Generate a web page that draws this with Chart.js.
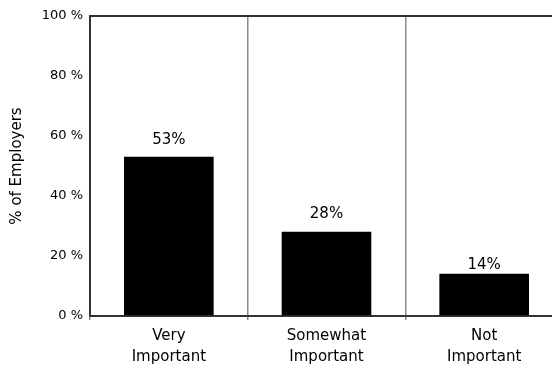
<!DOCTYPE html>
<html>
<head>
<meta charset="utf-8">
<script src="https://cdn.jsdelivr.net/npm/chart.js@4/dist/chart.umd.min.js"></script>
<style>
  html, body { margin: 0; padding: 0; background: #fff; overflow: hidden; }
  #wrap { width: 552px; height: 371px; overflow: hidden; }
</style>
</head>
<body>
<div id="wrap"><canvas id="chart" width="600" height="371"></canvas></div>
<script>
// ── Data ───────────────────────────────────────────────
const categories = [['Very', 'Important'], ['Somewhat', 'Important'], ['Not', 'Important']];
const shares = [53, 28, 14];
const yTicks = [0, 20, 40, 60, 80, 100];

// ── Value labels above bars ────────────────────────────
const barLabels = {
  id: 'barLabels',
  afterDatasetsDraw(chart, args, opts) {
    const { ctx } = chart;
    const meta = chart.getDatasetMeta(0);
    ctx.save();
    ctx.font = '15px "DejaVu Sans"';
    ctx.fillStyle = '#000';
    ctx.textAlign = 'center';
    ctx.textBaseline = 'bottom';
    meta.data.forEach((bar, i) => {
      ctx.fillText(shares[i] + '%', bar.x, bar.y - opts.gaps[i]);
    });
    ctx.restore();
  }
};

new Chart(document.getElementById('chart'), {
  type: 'bar',
  data: {
    labels: categories,
    datasets: [{
      data: shares,
      backgroundColor: '#000',
      borderWidth: 0,
      barThickness: 89,
    }],
  },
  options: {
    responsive: false,
    animation: false,
    layout: { padding: { top: 16, right: 37, left: 0, bottom: 0 } },
    plugins: {
      legend: { display: false },
      tooltip: { enabled: false },
      barLabels: { gaps: [9, 10, 1] },
    },
    scales: {
      x: {
        offset: true,
        afterFit: s => { s.height = 55; },
        grid: {
          offset: true,
          color: '#8a8a8a',
          lineWidth: 1.5,
          drawTicks: true,
          tickLength: 4,
        },
        border: { color: '#333', width: 2 },
        ticks: {
          color: '#000',
          font: { family: 'DejaVu Sans', size: 15, lineHeight: 1.4 },
          padding: 6,
          maxRotation: 0,
        },
      },
      y: {
        min: 0,
        max: 100,
        afterFit: s => { s.width = 90; },
        afterBuildTicks: s => { s.ticks = yTicks.map(v => ({ value: v })); },
        grid: {
          drawTicks: false,
          color: c => (c.tick && c.tick.value === 100 ? '#333' : 'rgba(0,0,0,0)'),
          lineWidth: 2,
        },
        border: { color: '#333', width: 2 },
        ticks: {
          color: '#000',
          font: { family: 'DejaVu Sans', size: 13 },
          padding: 7,
          callback: v => v + ' %',
        },
        title: {
          display: true,
          text: '% of Employers',
          color: '#000',
          font: { family: 'DejaVu Sans', size: 15 },
          padding: { top: 8, bottom: 0 },
        },
      },
    },
  },
  plugins: [barLabels],
});
</script>
</body>
</html>
